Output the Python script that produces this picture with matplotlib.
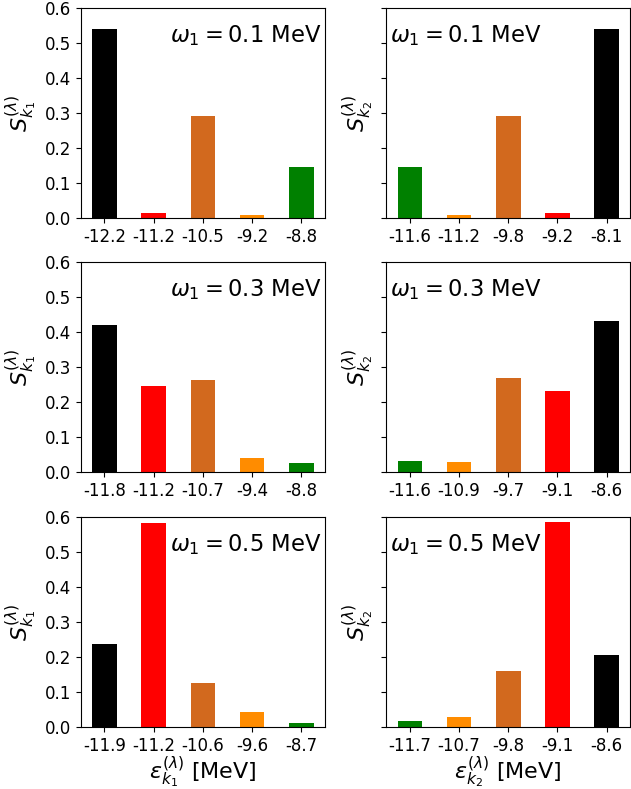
import numpy as np
import matplotlib
matplotlib.use('Agg')
import matplotlib.pyplot as plt

# single-particle energies (tick labels) and strengths for each omega_1
omega = [0.1, 0.3, 0.5]

eps_k1 = [['-12.2', '-11.2', '-10.5', '-9.2', '-8.8'],
          ['-11.8', '-11.2', '-10.7', '-9.4', '-8.8'],
          ['-11.9', '-11.2', '-10.6', '-9.6', '-8.7']]
eps_k2 = [['-11.6', '-11.2', '-9.8', '-9.2', '-8.1'],
          ['-11.6', '-10.9', '-9.7', '-9.1', '-8.6'],
          ['-11.7', '-10.7', '-9.8', '-9.1', '-8.6']]

S_k1 = [[0.541, 0.013, 0.290, 0.0095, 0.147],
        [0.422, 0.247, 0.264, 0.042, 0.028],
        [0.238, 0.584, 0.125, 0.043, 0.011]]
S_k2 = [[0.147, 0.0095, 0.290, 0.013, 0.541],
        [0.033, 0.031, 0.271, 0.233, 0.434],
        [0.017, 0.028, 0.161, 0.587, 0.207]]

col_k1 = ['black', 'red', 'chocolate', 'darkorange', 'green']
col_k2 = ['green', 'darkorange', 'chocolate', 'red', 'black']

plt.rc('figure', dpi=100)
fig, axs = plt.subplots(nrows=3, ncols=2, sharey=True, figsize=(6.31, 7.89))
fig.subplots_adjust(left=0.1284, right=0.9985, top=0.9899, bottom=0.0786,
                    wspace=0.254, hspace=0.212)

ind = np.arange(5)
for i in range(3):
    ax1, ax2 = axs[i]
    ax1.bar(ind, S_k1[i], width=0.5, color=col_k1)
    ax2.bar(ind, S_k2[i], width=0.5, color=col_k2)

    lab = r'$\omega_1 = %.1f$ MeV' % omega[i]
    ax1.text(0.985, 0.93, lab, transform=ax1.transAxes, ha='right', va='top',
             fontsize=16.3)
    ax2.text(0.015, 0.93, lab, transform=ax2.transAxes, ha='left', va='top',
             fontsize=16.3)

    ax1.set_xticks(ind)
    ax1.set_xticklabels(eps_k1[i], fontsize=12)
    ax2.set_xticks(ind)
    ax2.set_xticklabels(eps_k2[i], fontsize=12)
    ax1.set_yticks(np.arange(0, 0.61, 0.1))
    ax1.tick_params(axis='y', labelsize=12)

    ax1.set_ylabel(r'$S_{k_1}^{(\lambda)}$', fontsize=16)
    ax2.set_ylabel(r'$S_{k_2}^{(\lambda)}$', fontsize=16)

axs[0][0].set_ylim(0, 0.6)
axs[2][0].set_xlabel(r'$\varepsilon_{k_1}^{(\lambda)}$ [MeV]', fontsize=16, labelpad=0)
axs[2][1].set_xlabel(r'$\varepsilon_{k_2}^{(\lambda)}$ [MeV]', fontsize=16, labelpad=0)

plt.savefig('out.png', format='png')
